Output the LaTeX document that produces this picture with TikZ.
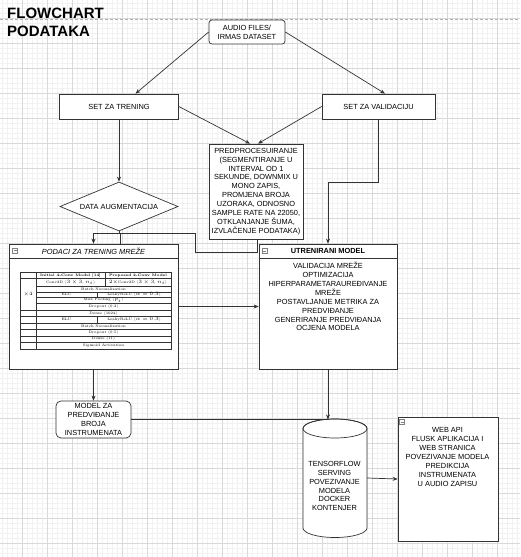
\documentclass[tikz,border=0pt]{standalone}
\usepackage{fontspec}
\newfontfamily\sansf{Liberation Sans}
\usetikzlibrary{arrows.meta,shapes.geometric}
\definecolor{linec}{HTML}{333333}
\definecolor{gridmaj}{HTML}{D9D9D9}
\definecolor{gridmin}{HTML}{F1F1F1}
\newcommand\fs{\sansf\fontsize{7.4}{8.9}\selectfont}
\newcommand\tabsz{\rmfamily\fontsize{3.6}{4.4}\selectfont}
\begin{document}
\begin{tikzpicture}[x=1pt,y=-1pt,
  box/.style={draw=linec, fill=white, line width=0.7pt, inner sep=1pt, align=center, font=\fs},
  conn/.style={draw=linec, line width=0.7pt},
  arr/.style={conn, -{Stealth[length=5pt,width=4pt]}},
  tcell/.style={font=\tabsz, inner sep=0pt},
  tline/.style={draw=linec, line width=0.35pt},
  txt/.style={font=\fs, align=center, inner sep=0pt},
]
\useasboundingbox (0,0) rectangle (520,557);
\fill[white] (0,0) rectangle (520,557);
% grid
\foreach \x in {2.7,7.7,...,520} \draw[gridmin, line width=0.5pt] (\x,0) -- (\x,557);
\foreach \y in {3.7,8.7,...,557} \draw[gridmin, line width=0.5pt] (0,\y) -- (520,\y);
\foreach \x in {22.7,47.7,...,520} \draw[gridmaj, line width=0.5pt] (\x,0) -- (\x,557);
\foreach \y in {18.7,43.7,...,557} \draw[gridmaj, line width=0.5pt] (0,\y) -- (520,\y);
\draw[gray!60, dash pattern=on 3pt off 2pt, line width=0.5pt] (0,19) -- (520,19);

% title
\node[anchor=north west, inner sep=0pt, align=left, font=\sansf\bfseries\fontsize{15}{18.7}\selectfont] (title) at (7,7.5) {FLOWCHART\\PODATAKA};

% nodes
\node[box, rounded corners=3pt, minimum width=76pt, minimum height=24pt] (audio) at (247,32) {AUDIO FILES/\\IRMAS DATASET};
\node[box, minimum width=119pt, minimum height=25pt] (tren) at (119,106.5) {SET ZA TRENING};
\node[box, minimum width=113pt, minimum height=25pt] (val) at (378.5,106.5) {SET ZA VALIDACIJU};
\node[box, minimum width=94pt, minimum height=95pt] (pre) at (256,191.5) {PREDPROCESUIRANJE\\ (SEGMENTIRANJE U\\INTERVAL OD 1\\SEKUNDE, DOWNMIX U\\MONO ZAPIS,\\PROMJENA BROJA\\UZORAKA, ODNOSNO\\SAMPLE RATE NA 22050,\\OTKLANJANJE ŠUMA,\\IZVLAČENJE PODATAKA)};
\node[box, diamond, aspect=2.41, minimum width=118pt, minimum height=49pt, inner sep=0pt] (aug) at (119,206.5) {DATA AUGMENTACIJA};

\node[box, minimum width=169pt, minimum height=125pt] (pod) at (93.5,306.5) {};
\draw[conn] ([yshift=-14.5pt]pod.north west) -- ([yshift=-14.5pt]pod.north east);
\node[font=\fs\itshape, inner sep=0pt] (podt) at (93.5,251) {PODACI ZA TRENING MREŽE};

\node[box, minimum width=138pt, minimum height=125pt] (utr) at (328,306.5) {};
\draw[conn] ([yshift=-15pt]utr.north west) -- ([yshift=-15pt]utr.north east);
\node[font=\fs\bfseries, inner sep=0pt] (utrt) at (328,251) {UTRENIRANI MODEL};
\node[txt, anchor=north] (utrb) at (328,262) {VALIDACIJA MREŽE\\OPTIMIZACIJA\\HIPERPARAMETARAUREĐIVANJE\\MREŽE\\POSTAVLJANJE METRIKA ZA\\PREDVIĐANJE\\GENERIRANJE PREDVIĐANJA\\OCJENA MODELA};

\node[box, rounded corners=5pt, minimum width=75pt, minimum height=37pt] (mz) at (93.5,419.5) {MODEL ZA\\PREDVIĐANJE\\BROJA\\INSTRUMENATA};

% cylinder
\draw[conn, fill=white] (303,428.5) -- (303,528) arc[start angle=180, end angle=360, x radius=32pt, y radius=9.5pt] -- (367,428.5) arc[start angle=0, end angle=180, x radius=32pt, y radius=9.5pt] -- cycle;
\draw[conn] (335,428.5) ellipse[x radius=32pt, y radius=9.5pt];
\node[minimum width=64pt, minimum height=118pt, inner sep=0pt] (tf) at (335,478) {};
\node[txt] (tft) at (334.5,486) {TENSORFLOW\\SERVING\\POVEZIVANJE\\MODELA\\DOCKER\\KONTENJER};

\node[box, minimum width=100pt, minimum height=124pt] (web) at (448,479) {};
\node[txt, anchor=north] (webt) at (447.5,427.5) {WEB API\\FLUSK APLIKACIJA I\\WEB STRANICA\\POVEZIVANJE MODELA\\PREDIKCIJA\\INSTRUMENATA\\U AUDIO ZAPISU};

% collapse icons
\foreach \cx/\cy in {15/250.5, 264.5/251, 402/422} {
  \draw[gray, line width=0.4pt, fill=white] (\cx-2.5,\cy-2.5) rectangle (\cx+2.5,\cy+2.5);
  \draw[gray, line width=0.4pt] (\cx-1.5,\cy) -- (\cx+1.5,\cy);
}

% table
\draw[tline] (20,272) rectangle (171,349.5);
\foreach \yy in {278.5,310,316.3,322.8,329.3,335.8,342.3} \draw[tline] (20,\yy) -- (171,\yy);
\foreach \yy in {286,292,297.5,303.3} \draw[tline] (36,\yy) -- (171,\yy);
\draw[tline] (36,272) -- (36,349.5);
\draw[tline] (105,272) -- (105,286);
\draw[tline] (97,292) -- (97,297.5);
\draw[tline] (97,316.3) -- (97,322.8);
\node[tcell] (c1) at (70.5,275.3) {\bfseries Initial 4-Conv Model [14]};
\node[tcell] (c2) at (138,275.3) {\bfseries Proposed 2-Conv Model};
\node[tcell] (c3) at (28,294) {$\times4$};
\node[tcell] (c4) at (70.5,282.3) {Conv2D ($3\times3$, $n_i$)};
\node[tcell] (c5) at (138,282.3) {$2\times$Conv2D ($3\times3$, $n_i$)};
\node[tcell] (c6) at (103.5,289) {Batch Normalization};
\node[tcell] (c7) at (66.5,294.8) {ELU};
\node[tcell] (c8) at (134,294.8) {LeakyReLU ($\alpha=0.3$)};
\node[tcell] (c9) at (103.5,300.4) {Max Pooling ($p_i$)};
\node[tcell] (c10) at (103.5,306.6) {Dropout (0.2)};
\node[tcell] (c11) at (103.5,313.2) {Dense (1024)};
\node[tcell] (c12) at (66.5,319.6) {ELU};
\node[tcell] (c13) at (134,319.6) {LeakyReLU ($\alpha=0.3$)};
\node[tcell] (c14) at (103.5,326) {Batch Normalization};
\node[tcell] (c15) at (103.5,332.6) {Dropout (0.5)};
\node[tcell] (c16) at (103.5,339) {Dense (11)};
\node[tcell] (c17) at (103.5,345.8) {Sigmoid Activation};

% connectors
\draw[arr] (audio.west) -- ([xshift=16.5pt]tren.north);
\draw[arr] (audio.east) -- ([xshift=6.5pt]val.north);
\draw[arr] (tren.east) -- ([xshift=-6pt]pre.north);
\draw[arr] (val.west) -- ([xshift=2pt]pre.north);
\draw[arr] (tren.south) -- (aug.north);
\draw[arr] ([xshift=-0.5pt]val.south) -- ++(0,63) -| (utr.north);
\draw[arr] (aug.south) -- ++(0,1.5) -| (pod.north);
\coordinate (p1) at (195,233);
\draw[conn] ([xshift=1pt]pre.south) -- ++(0,12.5) -| (p1) -| ([xshift=26.5pt]pod.north);
\draw[arr] (pod.east) -- (utr.west);
\draw[arr] (pod.south) -- (mz.north);
\coordinate (tfin) at (328,419.5);
\draw[arr] (utr.south) -- (tfin);
\draw[conn] (mz.east) -- (tfin);
\draw[arr] (tf.east) -- (web.west);
\end{tikzpicture}
\end{document}
